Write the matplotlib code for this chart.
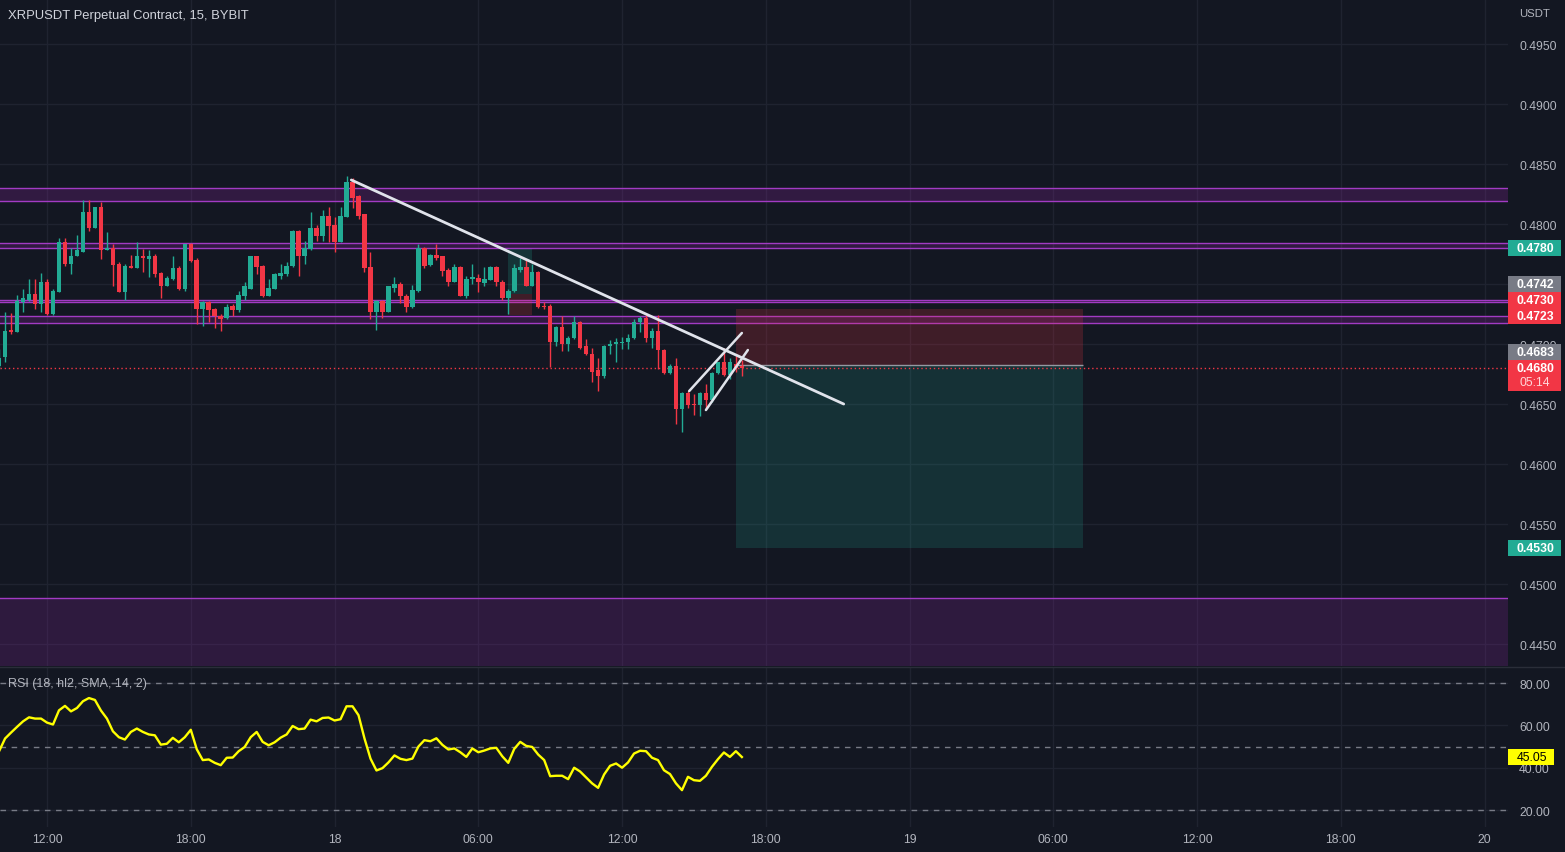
import numpy as np
import pandas as pd
import matplotlib
matplotlib.use('Agg')
import matplotlib.pyplot as plt
from matplotlib.patches import Rectangle
from matplotlib.lines import Line2D
from matplotlib.transforms import blended_transform_factory

plt.rcParams['font.family'] = ['Liberation Sans', 'DejaVu Sans']

# colours
BG = '#131722'
GRID = '#1f2330'
TXT = '#b2b5be'
UP = '#22ab94'
DOWN = '#f23645'
GREY = '#787b86'
PURPLE = '#9c27b0'
PLINE = '#a23bc4'

############################################################
# 15 min candles, XRPUSDT, starting 17th 10:00
start = pd.Timestamp('2023-10-17 10:00')

opens = [0.4682, 0.4689, 0.4712, 0.4710, 0.4735, 0.4737, 0.4742, 0.4733, 0.4752, 0.4725,
         0.4743, 0.4785, 0.4767, 0.4773, 0.4777, 0.4810, 0.4797, 0.4814, 0.4778, 0.4780,
         0.4767, 0.4743, 0.4765, 0.4763, 0.4773, 0.4771, 0.4773, 0.4759, 0.4748, 0.4754,
         0.4763, 0.4746, 0.4783, 0.4770, 0.4729, 0.4735, 0.4729, 0.4723, 0.4722, 0.4732,
         0.4728, 0.4740, 0.4746, 0.4773, 0.4765, 0.4740, 0.4746, 0.4757, 0.4758, 0.4765,
         0.4794, 0.4773, 0.4779, 0.4797, 0.4790, 0.4807, 0.4799, 0.4785, 0.4806, 0.4835,
         0.4823, 0.4808, 0.4764, 0.4727, 0.4736, 0.4727, 0.4747, 0.4750, 0.4740, 0.4731,
         0.4744, 0.4780, 0.4766, 0.4774, 0.4773, 0.4762, 0.4752, 0.4764, 0.4740, 0.4754,
         0.4755, 0.4751, 0.4753, 0.4764, 0.4752, 0.4738, 0.4744, 0.4762, 0.4764, 0.4748,
         0.4760, 0.4732, 0.4732, 0.4702, 0.4714, 0.4700, 0.4705, 0.4718, 0.4698, 0.4692,
         0.4678, 0.4673, 0.4698, 0.4700, 0.4701, 0.4702, 0.4705, 0.4718, 0.4722, 0.4705,
         0.4711, 0.4695, 0.4676, 0.4682, 0.4646, 0.4659, 0.4650, 0.4649, 0.4659, 0.4653,
         0.4676, 0.4685, 0.4674, 0.4683, 0.4682]

highs = [0.4696, 0.4727, 0.4726, 0.4741, 0.4746, 0.4754, 0.4754, 0.4759, 0.4754, 0.4746,
         0.4788, 0.4788, 0.4780, 0.4791, 0.4820, 0.4820, 0.4814, 0.4818, 0.4793, 0.4783,
         0.4768, 0.4767, 0.4774, 0.4785, 0.4779, 0.4778, 0.4775, 0.4760, 0.4757, 0.4773,
         0.4765, 0.4783, 0.4784, 0.4772, 0.4736, 0.4736, 0.4730, 0.4725, 0.4733, 0.4733,
         0.4744, 0.4752, 0.4773, 0.4773, 0.4766, 0.4754, 0.4759, 0.4767, 0.4768, 0.4795,
         0.4795, 0.4786, 0.4810, 0.4799, 0.4812, 0.4814, 0.4806, 0.4814, 0.4840, 0.4838,
         0.4824, 0.4808, 0.4777, 0.4737, 0.4737, 0.4748, 0.4756, 0.4752, 0.4742, 0.4749,
         0.4783, 0.4781, 0.4775, 0.4783, 0.4773, 0.4763, 0.4767, 0.4765, 0.4757, 0.4767,
         0.4758, 0.4764, 0.4765, 0.4765, 0.4753, 0.4746, 0.4767, 0.4772, 0.4771, 0.4767,
         0.4761, 0.4735, 0.4733, 0.4715, 0.4723, 0.4707, 0.4723, 0.4719, 0.4704, 0.4697,
         0.4688, 0.4699, 0.4703, 0.4705, 0.4706, 0.4708, 0.4721, 0.4723, 0.4724, 0.4713,
         0.4724, 0.4696, 0.4683, 0.4688, 0.4660, 0.4661, 0.4658, 0.4660, 0.4667, 0.4677,
         0.4685, 0.4697, 0.4688, 0.4690, 0.4687]

lows = [0.4679, 0.4685, 0.4708, 0.4710, 0.4727, 0.4736, 0.4729, 0.4727, 0.4724, 0.4724,
        0.4743, 0.4765, 0.4758, 0.4773, 0.4777, 0.4794, 0.4797, 0.4771, 0.4778, 0.4748,
        0.4743, 0.4737, 0.4763, 0.4763, 0.4760, 0.4756, 0.4756, 0.4738, 0.4748, 0.4753,
        0.4745, 0.4744, 0.4768, 0.4717, 0.4715, 0.4718, 0.4713, 0.4711, 0.4721, 0.4723,
        0.4727, 0.4737, 0.4746, 0.4758, 0.4739, 0.4740, 0.4746, 0.4754, 0.4757, 0.4764,
        0.4757, 0.4767, 0.4778, 0.4786, 0.4786, 0.4785, 0.4777, 0.4785, 0.4806, 0.4813,
        0.4804, 0.4760, 0.4721, 0.4712, 0.4722, 0.4727, 0.4743, 0.4734, 0.4727, 0.4730,
        0.4743, 0.4763, 0.4765, 0.4770, 0.4757, 0.4748, 0.4752, 0.4740, 0.4738, 0.4750,
        0.4743, 0.4748, 0.4753, 0.4748, 0.4737, 0.4725, 0.4743, 0.4760, 0.4748, 0.4748,
        0.4730, 0.4729, 0.4681, 0.4698, 0.4694, 0.4694, 0.4704, 0.4696, 0.4691, 0.4668,
        0.4661, 0.4672, 0.4692, 0.4685, 0.4696, 0.4696, 0.4704, 0.4710, 0.4702, 0.4697,
        0.4679, 0.4675, 0.4675, 0.4633, 0.4627, 0.4647, 0.4641, 0.4640, 0.4646, 0.4652,
        0.4675, 0.4673, 0.4671, 0.4677, 0.4673]

closes = [0.4688, 0.4711, 0.4710, 0.4736, 0.4738, 0.4742, 0.4733, 0.4752, 0.4725, 0.4744,
          0.4785, 0.4767, 0.4773, 0.4778, 0.4810, 0.4797, 0.4814, 0.4778, 0.4780, 0.4766,
          0.4743, 0.4765, 0.4763, 0.4773, 0.4772, 0.4773, 0.4758, 0.4748, 0.4755, 0.4763,
          0.4746, 0.4783, 0.4769, 0.4729, 0.4735, 0.4728, 0.4723, 0.4721, 0.4731, 0.4728,
          0.4741, 0.4748, 0.4773, 0.4764, 0.4740, 0.4747, 0.4758, 0.4759, 0.4765, 0.4794,
          0.4773, 0.4780, 0.4797, 0.4790, 0.4807, 0.4798, 0.4785, 0.4807, 0.4835, 0.4822,
          0.4807, 0.4763, 0.4727, 0.4736, 0.4727, 0.4748, 0.4750, 0.4740, 0.4731, 0.4745,
          0.4780, 0.4765, 0.4774, 0.4772, 0.4761, 0.4752, 0.4764, 0.4740, 0.4754, 0.4756,
          0.4752, 0.4754, 0.4764, 0.4752, 0.4738, 0.4744, 0.4763, 0.4764, 0.4748, 0.4760,
          0.4731, 0.4731, 0.4702, 0.4714, 0.4700, 0.4705, 0.4718, 0.4697, 0.4692, 0.4677,
          0.4673, 0.4698, 0.4700, 0.4702, 0.4702, 0.4705, 0.4718, 0.4722, 0.4705, 0.4711,
          0.4695, 0.4676, 0.4682, 0.4646, 0.4659, 0.4649, 0.4649, 0.4659, 0.4653, 0.4676,
          0.4685, 0.4674, 0.4685, 0.4680, 0.4680]

# RSI (18, hl2)
rsi = [47.8, 53.8, 56.6, 59.3, 61.9, 63.8, 63.2, 63.2, 61.3, 60.4,
       67.1, 69.2, 66.6, 68.2, 71.4, 72.9, 72.0, 67.0, 63.2, 57.2,
       54.4, 53.3, 56.9, 58.5, 56.9, 55.7, 55.3, 50.9, 51.3, 54.1,
       52.0, 54.4, 57.9, 48.7, 43.6, 43.9, 42.3, 41.2, 44.7, 44.8,
       47.8, 49.8, 54.4, 56.9, 52.2, 50.6, 52.0, 54.2, 55.7, 59.7,
       58.2, 58.5, 62.7, 61.9, 63.5, 63.7, 62.3, 62.9, 69.0, 69.0,
       64.8, 53.8, 44.3, 38.7, 39.8, 42.5, 45.8, 44.2, 43.6, 44.3,
       50.0, 53.0, 52.5, 53.9, 50.8, 48.6, 49.1, 47.3, 45.1, 49.1,
       47.3, 48.1, 49.1, 49.4, 45.4, 42.3, 48.9, 52.2, 50.3, 49.8,
       46.2, 43.6, 36.0, 36.2, 36.2, 34.6, 40.0, 38.2, 35.4, 32.6,
       30.5, 36.8, 40.9, 42.0, 40.0, 42.5, 46.7, 48.0, 47.8, 44.7,
       43.6, 38.8, 37.0, 32.6, 29.4, 35.7, 34.1, 33.8, 36.2, 40.4,
       44.0, 47.2, 45.1, 47.8, 45.05]

# drawings (bar index, price)
zones = [(0.48194, 0.48300), (0.47798, 0.47842), (0.47350, 0.47367), (0.47175, 0.47233)]
bottom_zone_top = 0.44883
trend_line = [(58.8, 0.48367), (141.0, 0.4650)]
channel_upper = [(115.2, 0.46608), (124.0, 0.47092)]
channel_lower = [(118.0, 0.46450), (125.0, 0.46950)]
position_bars = (123.0, 181.0)
stop_price, entry_price, target_price = 0.47292, 0.46825, 0.4530
old_position = (85.0, 89.0, 0.47792, 0.47417, 0.47242)   # x0, x1, target, entry, stop
last_price = 0.4680

# right axis labels (price, colour, text, countdown)
price_labels = [(0.4780, UP, '0.4780', ''),
                (0.4742, GREY, '0.4742', ''),
                (0.4730, DOWN, '0.4730', ''),
                (0.4723, DOWN, '0.4723', ''),
                (0.4683, GREY, '0.4683', ''),
                (0.4680, DOWN, '0.4680', '05:14'),
                (0.4530, UP, '0.4530', '')]

############################################################

W, H = 1565, 853
fig = plt.figure(figsize=(W / 100, H / 100), dpi=100, facecolor=BG)
ax = fig.add_axes([0, 1 - 667 / H, 1508 / W, 667 / H], facecolor=BG)
ax2 = fig.add_axes([0, (H - 828) / H, 1508 / W, 160 / H], facecolor=BG)

xlim = (0.15, 251.9)
ylim = (0.44317, 0.49875)
FS = 8.8

bars = np.arange(len(opens))

# time ticks every 6 hours
tick_times = pd.date_range('2023-10-17 12:00', '2023-10-20 00:00', freq='6h')
tick_pos = [(t - start) / pd.Timedelta('15min') for t in tick_times]
tick_lbl = [str(t.day) if t.hour == 0 else t.strftime('%H:%M') for t in tick_times]

for a in (ax, ax2):
    a.set_xlim(*xlim)
    for s in a.spines.values():
        s.set_visible(False)
    a.set_xticks(tick_pos)
    a.grid(color=GRID, lw=1, zorder=0)
    a.set_axisbelow(True)
    a.yaxis.tick_right()
    a.tick_params(length=0, colors=TXT, labelsize=FS, pad=8)

ax.set_xticklabels([])
ax2.set_xticklabels(tick_lbl)
ax2.tick_params(axis='x', pad=4)

# main pane
ax.set_ylim(*ylim)
ax.set_yticks(np.arange(0.4450, 0.49501, 0.005))
ax.set_yticklabels(['%.4f' % v for v in np.arange(0.4450, 0.49501, 0.005)])

for lo, hi in zones:
    ax.axhspan(lo, hi, color=PURPLE, alpha=0.22, lw=0, zorder=1)
    ax.axhline(lo, color=PLINE, lw=1, zorder=1)
    ax.axhline(hi, color=PLINE, lw=1, zorder=1)
ax.axhspan(ylim[0], bottom_zone_top, color=PURPLE, alpha=0.2, lw=0, zorder=1)
ax.axhline(bottom_zone_top, color=PLINE, lw=1, zorder=1)

# long/short position tools
x0, x1 = position_bars
ax.add_patch(Rectangle((x0, entry_price), x1 - x0, stop_price - entry_price,
                       facecolor=DOWN, alpha=0.2, lw=0, zorder=1))
ax.add_patch(Rectangle((x0, target_price), x1 - x0, entry_price - target_price,
                       facecolor=UP, alpha=0.18, lw=0, zorder=1))
ax.hlines(entry_price, x0, x1, color='#9598a1', lw=1, zorder=2)

ox0, ox1, otgt, oent, ostp = old_position
ax.add_patch(Rectangle((ox0, oent), ox1 - ox0, otgt - oent, facecolor=UP, alpha=0.2, lw=0, zorder=1))
ax.add_patch(Rectangle((ox0, ostp), ox1 - ox0, oent - ostp, facecolor=DOWN, alpha=0.2, lw=0, zorder=1))

# candles
o = np.array(opens); c = np.array(closes)
cols = [UP if cc >= oo else DOWN for oo, cc in zip(o, c)]
ax.vlines(bars, lows, highs, colors=cols, lw=1, zorder=3)
body = np.maximum(np.abs(c - o), 0.00009)
ax.bar(bars, body, bottom=np.minimum(o, c), width=0.76, color=cols, lw=0, zorder=3)

# current price
ax.axhline(last_price, color=DOWN, ls=(0, (1, 2)), lw=1, zorder=2)

# trend line and channel
for seg, lw in ((trend_line, 2), (channel_upper, 1.8), (channel_lower, 1.8)):
    xs, ys = zip(*seg)
    ax.plot(xs, ys, color='#e0e3eb', lw=lw, solid_capstyle='round', zorder=4)

# right-hand price labels, stacked so they do not overlap
scale = 667 / (ylim[1] - ylim[0])   # px per price unit
blend = blended_transform_factory(ax.transAxes, ax.transData)
bw = 53 / 1508
prev_top = -1e9
for price, col, txt, sub in sorted(price_labels):
    up_px = 8
    dn_px = 23 if sub else 8
    yc = price * scale
    if yc - dn_px < prev_top:
        yc = prev_top + dn_px
    prev_top = yc + up_px
    p = yc / scale
    ax.add_patch(Rectangle((1.0, p - dn_px / scale), bw, (up_px + dn_px) / scale,
                           transform=blend, facecolor=col, lw=0, clip_on=False, zorder=10))
    ax.text(1.0 + 27 / 1508, p, txt, transform=blend, ha='center', va='center',
            color='white', fontsize=FS, fontweight='bold', clip_on=False, zorder=11)
    if sub:
        ax.text(1.0 + 27 / 1508, p - 14 / scale, sub, transform=blend, ha='center', va='center',
                color='#ffd6d9', fontsize=FS, clip_on=False, zorder=11)

# RSI pane
ax2.set_ylim(12.0, 87.56)
ax2.set_yticks([20, 40, 60, 80])
ax2.set_yticklabels(['20.00', '40.00', '60.00', '80.00'])
for lvl in (80, 50, 20):
    ax2.axhline(lvl, color=GREY, lw=1, ls=(0, (4, 4)), zorder=1)
ax2.plot(bars, rsi, color='#ffff00', lw=1.7, zorder=3)
blend2 = blended_transform_factory(ax2.transAxes, ax2.transData)
ax2.add_patch(Rectangle((1.0, rsi[-1] - 3.7), 46 / 1508, 7.4, transform=blend2,
                        facecolor='#ffff00', lw=0, clip_on=False, zorder=10))
ax2.text(1.0 + 24 / 1508, rsi[-1], '%.2f' % rsi[-1], transform=blend2, ha='center', va='center',
         color='black', fontsize=FS, clip_on=False, zorder=11)
ax2.text(8 / 1508, 80, 'RSI (18, hl2, SMA, 14, 2)', transform=blend2, ha='left', va='center',
         color=TXT, fontsize=9, zorder=5)

# pane separator
fig.add_artist(Line2D([0, 1], [1 - 667.5 / H] * 2, transform=fig.transFigure, color='#2a2e39', lw=1))

# titles
fig.text(8 / W, 1 - 16 / H, 'XRPUSDT Perpetual Contract, 15, BYBIT', color='#d1d4dc',
         fontsize=9.4, va='center', ha='left')
fig.text(1519 / W, 1 - 14 / H, 'USDT', color=TXT, fontsize=8.2, va='center', ha='left')

plt.savefig('out.png', dpi=100, facecolor=BG)
